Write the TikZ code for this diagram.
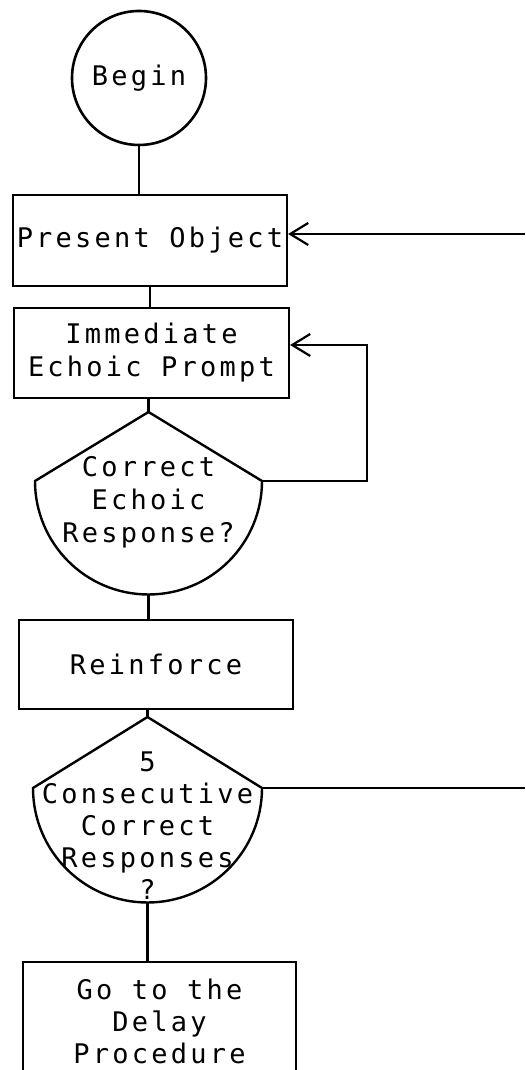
\documentclass[tikz,border=0pt]{standalone}
\usepackage{fontspec}
\newfontfamily\chartfont{DejaVu Sans Mono}[LetterSpace=12]
\usepackage{tikz}
\usetikzlibrary{shapes,arrows.meta}

\tikzset{
  txt/.style={inner sep=0pt, align=center, font=\chartfont\fontsize{27}{33}\selectfont},
  box/.style={txt, draw, line width=2.2pt},
  disc/.style={txt, draw, circle, line width=2.6pt, minimum size=134pt},
  dec/.style={line width=2.4pt},
  link/.style={line width=2.2pt},
  back/.style={line width=2.2pt, -{Straight Barb[length=18pt,width=22pt,line width=2.2pt]}}
}

\begin{document}
\begin{tikzpicture}[x=1pt,y=1pt]
\clip (0,0) rectangle (525,1070);
% begin, then the two steps
\node[disc] (begin) at (139,992) {Begin};
\node[box, minimum width=274pt, minimum height=91pt] (po) at (150,829.5) {Present Object};
\node[box, minimum width=275pt, minimum height=90pt] (im) at (151.5,717) {Immediate\\Echoic Prompt};
% first question
\coordinate (q1left) at (35,589);
\coordinate (q1top) at (148.5,658);
\coordinate (q1right) at (262,589);
\coordinate (q1bot) at (148.5,475.5);
\draw[dec] (q1left) -- (q1top) -- (q1right) arc[start angle=0, end angle=-180, radius=113.5pt] -- cycle;
\node[txt] (q1) at (148.5,568) {Correct\\Echoic\\Response?};
\node[box, minimum width=274pt, minimum height=89pt] (rf) at (156,405.5) {Reinforce};
% second question
\coordinate (q2left) at (33,282);
\coordinate (q2top) at (147.5,353);
\coordinate (q2right) at (262,282);
\coordinate (q2bot) at (147.5,167.5);
\draw[dec] (q2left) -- (q2top) -- (q2right) arc[start angle=0, end angle=-180, radius=114.5pt] -- cycle;
\node[txt, font=\chartfont\fontsize{27}{32}\selectfont] (q2) at (147.5,244) {5\\Consecutive\\Correct\\Responses\\?};
\node[box, minimum width=273pt, minimum height=118pt, font=\chartfont\fontsize{27}{32}\selectfont] (gd) at (159.5,49) {Go to the\\Delay\\Procedure};
% connectors
\coordinate (q1loop) at (367,725);
\coordinate (imin) at ([yshift=8pt]im.east);
\coordinate (edgea) at (525,836);
\coordinate (edgeb) at (525,282);
\draw[link] (begin) -- (begin |- po.north);
\draw[link] (po) -- (po |- im.north);
\draw[link] (q1top |- im.south) -- (q1top);
\draw[link] (q1bot) -- (q1bot |- rf.north);
\draw[link] (q2top |- rf.south) -- (q2top);
\draw[link] (q2bot) -- (q2bot |- gd.north);
\draw[back] (q1right) -| (q1loop) -- (imin);
\draw[back] (edgea) -- ([yshift=6.5pt]po.east);
\draw[link] (q2right) -- (edgeb);
\end{tikzpicture}
\end{document}
